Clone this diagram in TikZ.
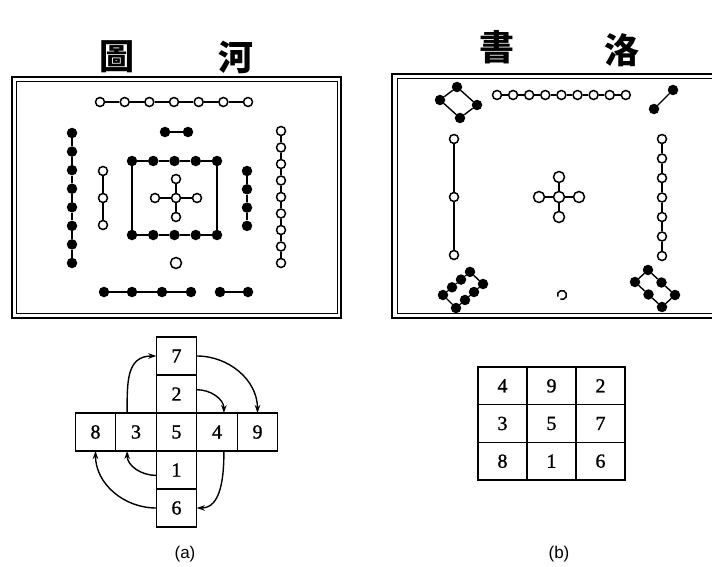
\documentclass[tikz,border=0pt]{standalone}
\usepackage{fontspec}
\setmainfont{Liberation Serif}
\newfontfamily\cjk{Noto Sans CJK TC}
\newfontfamily\labelfont{Liberation Sans}
\newfontfamily\digitfont{Liberation Serif}[FakeBold=1.2]
\usetikzlibrary{arrows.meta,positioning}

\begin{document}
\begin{tikzpicture}[x=1pt,y=-1pt,>={Stealth[length=8pt,width=5.5pt]},
  odot/.style={circle,draw,fill=white,line width=1.5pt,inner sep=0pt,minimum size=9pt},
  sdot/.style={circle,fill=black,inner sep=0pt,minimum size=10.5pt},
  link/.style={line width=1.4pt},
  frame/.style={line width=1.8pt},
  title/.style={font=\cjk\bfseries\fontsize{35}{35}\selectfont},
  cell/.style={draw,line width=1.3pt,inner sep=0pt,outer sep=0pt,minimum width=40.5pt,minimum height=38pt,font=\digitfont\fontsize{20}{20}\selectfont},
  gcell/.style={cell,minimum width=49pt,minimum height=37.7pt},
  caption/.style={font=\labelfont\fontsize{17}{17}\selectfont}]
  \useasboundingbox (0,0) rectangle (712,567);

  % (a) river chart
  \draw[frame] (12,77) rectangle (341,318);
  \draw[frame,line width=1pt] (16,82) rectangle (337,313);
  \node[title] (ha) at (117,57) {圖};
  \node[title] (hb) at (236,57) {河};

  \foreach \i in {0,...,6}
    \node[odot] (t\i) at (100+24.67*\i,102) {};
  \foreach \i [remember=\i as \p (initially 0)] in {1,...,6}
    \draw[link] (t\p) -- (t\i);

  \node[sdot] (pa) at (165,132) {};
  \node[sdot] (pb) at (188,132) {};
  \draw[link] (pa) -- (pb);

  \foreach \i in {0,...,7}
    \node[sdot] (lb\i) at (72,133+18.57*\i) {};
  \foreach \i [remember=\i as \p (initially 0)] in {1,...,7}
    \draw[link] (lb\p) -- (lb\i);

  \foreach \i in {0,...,2}
    \node[odot] (lw\i) at (103,171+27*\i) {};
  \draw[link] (lw0) -- (lw1) -- (lw2);

  % inner square
  \foreach \i in {0,...,4} {
    \node[sdot] (st\i) at (132+21.25*\i,161) {};
    \node[sdot] (sb\i) at (132+21.25*\i,235) {};
  }
  \foreach \i [remember=\i as \p (initially 0)] in {1,...,4} {
    \draw[link] (st\p) -- (st\i);
    \draw[link] (sb\p) -- (sb\i);
  }
  \draw[link] (st0) -- (sb0);
  \draw[link] (st4) -- (sb4);

  % centre five
  \node[odot] (cc) at (176,198) {};
  \node[odot] (cn) at (176,179) {};
  \node[odot] (cs) at (176,217) {};
  \node[odot] (cw) at (155,198) {};
  \node[odot] (ce) at (197,198) {};
  \foreach \k in {cn,cs,cw,ce}
    \draw[link] (cc) -- (\k);

  \foreach \i in {0,...,3}
    \node[sdot] (rb\i) at (247,171+18.3*\i) {};
  \draw[link] (rb0) -- (rb1) -- (rb2) -- (rb3);

  \foreach \i in {0,...,8}
    \node[odot] (rw\i) at (281,131+16.5*\i) {};
  \foreach \i [remember=\i as \p (initially 0)] in {1,...,8}
    \draw[link] (rw\p) -- (rw\i);

  \node[odot,minimum size=11pt] (one) at (176,263) {};

  \foreach \x [count=\i from 0] in {104,132,162,191,220,248}
    \node[sdot] (bb\i) at (\x,292) {};
  \draw[link] (bb0) -- (bb1) -- (bb2) -- (bb3);
  \draw[link] (bb4) -- (bb5);

  % (b) writing chart
  \draw[frame] (712,74) -| (392,318) -- (712,318);
  \draw[frame,line width=1pt] (712,79) -| (397,313) -- (712,313);
  \node[title] (hc) at (497,47) {書};
  \node[title] (hd) at (622,50) {洛};

  \node[sdot] (ka) at (457,87) {};
  \node[sdot] (kb) at (477,105) {};
  \node[sdot] (kc) at (460,118) {};
  \node[sdot] (kd) at (440,100) {};
  \draw[link] (ka) -- (kb) -- (kc) -- (kd) -- (ka);

  \foreach \i in {0,...,8}
    \node[odot] (nw\i) at (497+16.1*\i,95) {};
  \foreach \i [remember=\i as \p (initially 0)] in {1,...,8}
    \draw[link] (nw\p) -- (nw\i);

  \node[sdot] (ea) at (673,90) {};
  \node[sdot] (eb) at (654,109) {};
  \draw[link] (ea) -- (eb);

  \foreach \i in {0,...,2}
    \node[odot] (ww\i) at (454,139+58*\i) {};
  \draw[link] (ww0) -- (ww1) -- (ww2);

  \node[odot,minimum size=11pt] (mc) at (559,197) {};
  \node[odot,minimum size=11pt] (mn) at (559,177) {};
  \node[odot,minimum size=11pt] (ms) at (559,217) {};
  \node[odot,minimum size=11pt] (mw) at (539,197) {};
  \node[odot,minimum size=11pt] (me) at (579,197) {};
  \foreach \k in {mn,ms,mw,me}
    \draw[link] (mc) -- (\k);

  \foreach \i in {0,...,6}
    \node[odot] (ew\i) at (662,139+19.5*\i) {};
  \foreach \i [remember=\i as \p (initially 0)] in {1,...,6}
    \draw[link] (ew\p) -- (ew\i);

  \foreach \i in {0,...,3} {
    \node[sdot] (ua\i) at (443+9*\i,295-7.7*\i) {};
    \node[sdot] (ub\i) at (456+9*\i,308-8*\i) {};
  }
  \foreach \i [remember=\i as \p (initially 0)] in {1,...,3} {
    \draw[link] (ua\p) -- (ua\i);
    \draw[link] (ub\p) -- (ub\i);
  }
  \draw[link] (ua0) -- (ub0);
  \draw[link] (ua3) -- (ub3);

  \foreach \i in {0,...,2} {
    \node[sdot] (va\i) at (648+13.5*\i,270+12.5*\i) {};
    \node[sdot] (vb\i) at (635+13.5*\i,282+12.5*\i) {};
  }
  \foreach \i [remember=\i as \p (initially 0)] in {1,...,2} {
    \draw[link] (va\p) -- (va\i);
    \draw[link] (vb\p) -- (vb\i);
  }
  \draw[link] (va0) -- (vb0);
  \draw[link] (va2) -- (vb2);

  \draw[line width=1.5pt] (562,295) ++(160:4.5) arc[start angle=160,end angle=470,radius=4.5];

  % cross of numbers
  \node[cell] (n5) at (176.5,432) {5};
  \node[cell,above=0pt of n5] (n2) {2};
  \node[cell,above=0pt of n2] (n7) {7};
  \node[cell,below=0pt of n5] (n1) {1};
  \node[cell,below=0pt of n1] (n6) {6};
  \node[cell,left=0pt of n5] (n3) {3};
  \node[cell,left=0pt of n3] (n8) {8};
  \node[cell,right=0pt of n5] (n4) {4};
  \node[cell,right=0pt of n4] (n9) {9};

  \draw[->,link] (n3.115) to[out=90,in=180,looseness=1.2] (n7.west);
  \draw[->,link] (n7.east) to[out=0,in=90] (n9.north);
  \draw[->,link] (n2.12) to[out=0,in=90] (n4.70);
  \draw[->,link] (n4.-70) to[out=-90,in=0] (n6.east);
  \draw[->,link] (n1.-165) to[out=180,in=-90] (n3.-115);
  \draw[->,link] (n6.west) to[out=180,in=-90] (n8.south);

  % magic square
  \node[gcell] (g5) at (551.5,423.5) {5};
  \node[gcell,above=0pt of g5] (g9) {9};
  \node[gcell,below=0pt of g5] (g1) {1};
  \node[gcell,left=0pt of g5] (g3) {3};
  \node[gcell,right=0pt of g5] (g7) {7};
  \node[gcell,left=0pt of g9] (g4) {4};
  \node[gcell,right=0pt of g9] (g2) {2};
  \node[gcell,left=0pt of g1] (g8) {8};
  \node[gcell,right=0pt of g1] (g6) {6};
  \draw[line width=2.4pt] (g4.north west) rectangle (g6.south east);

  \node[caption] (ca) at (185,554) {(a)};
  \node[caption] (cb) at (559,554) {(b)};
\end{tikzpicture}
\end{document}
